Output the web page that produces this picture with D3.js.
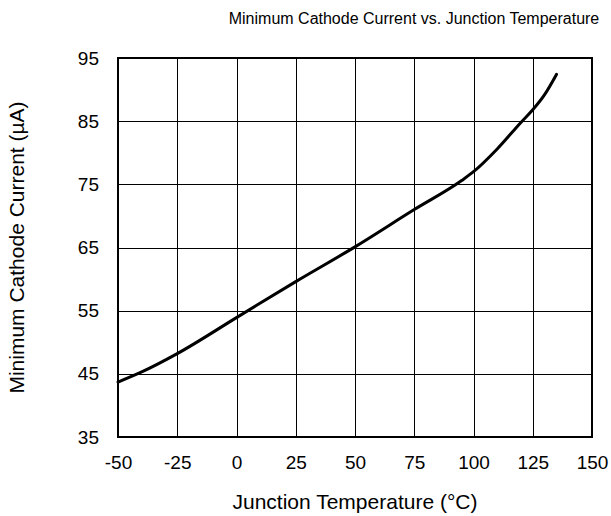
<!DOCTYPE html>
<html>
<head>
<meta charset="utf-8">
<script src="https://cdn.jsdelivr.net/npm/d3@7"></script>
<style>
  body { margin: 0; background: #fff; }
  text { font-family: "Liberation Sans", Arial, sans-serif; fill: #000; }
</style>
</head>
<body>
<div id="chart"></div>
<script>
"use strict";

// values
const temps = [-50, -40, -25, 0, 25, 50, 75, 95, 100, 110, 120, 125, 130, 135];
const current = [43.7, 45.3, 48.2, 53.9, 59.6, 65.1, 71.0, 75.6, 77.0, 80.6, 84.8, 86.8, 89.2, 92.4];
const xTicks = [-50, -25, 0, 25, 50, 75, 100, 125, 150];
const yTicks = [35, 45, 55, 65, 75, 85, 95];

const W = 611, H = 516;
const margin = { top: 58, right: 19, bottom: 79, left: 118 };
const width = W - margin.left - margin.right;
const height = H - margin.top - margin.bottom;

const x = d3.scaleLinear().domain([-50, 150]).range([0, width]);
const y = d3.scaleLinear().domain([35, 95]).range([height, 0]);

const svg = d3.select("#chart").append("svg")
              .attr("width", W)
              .attr("height", H);

const g = svg.append("g")
             .attr("transform", `translate(${margin.left}, ${margin.top})`);

// grid
g.append("g")
 .selectAll("line")
 .data(xTicks.slice(1, -1))
 .join("line")
 .attr("x1", d => Math.round(x(d)) + 0.5).attr("x2", d => Math.round(x(d)) + 0.5)
 .attr("y1", 0).attr("y2", height)
 .attr("stroke", "#000").attr("stroke-width", 1);

g.append("g")
 .selectAll("line")
 .data(yTicks.slice(1, -1))
 .join("line")
 .attr("x1", 0).attr("x2", width)
 .attr("y1", d => Math.round(y(d)) + 0.5).attr("y2", d => Math.round(y(d)) + 0.5)
 .attr("stroke", "#000").attr("stroke-width", 1);

// axes: labels only
const xAxis = g.append("g")
               .attr("transform", `translate(0, ${height})`)
               .call(d3.axisBottom(x).tickValues(xTicks).tickFormat(d => String(d))
                       .tickSize(0).tickPadding(19));
const yAxis = g.append("g")
               .call(d3.axisLeft(y).tickValues(yTicks).tickFormat(d => String(d))
                       .tickSize(0).tickPadding(19));
[xAxis, yAxis].forEach(a => {
    a.select(".domain").remove();
    a.selectAll("text")
     .style("font-family", "'Liberation Sans', Arial, sans-serif")
     .style("font-size", "19px");
});

// frame
g.append("rect")
 .attr("width", width).attr("height", height)
 .attr("fill", "none")
 .attr("stroke", "#000").attr("stroke-width", 2);

// curve
const pts = temps.map((t, i) => [t, current[i]]);
g.append("path")
 .datum(pts)
 .attr("fill", "none")
 .attr("stroke", "#000")
 .attr("stroke-width", 3)
 .attr("stroke-linecap", "round")
 .attr("d", d3.line()
              .x(d => x(d[0]))
              .y(d => y(d[1]))
              .curve(d3.curveMonotoneX));

// titles
svg.append("text")
   .attr("x", 414).attr("y", 24)
   .attr("text-anchor", "middle")
   .style("font-size", "16px")
   .text("Minimum Cathode Current vs. Junction Temperature");

svg.append("text")
   .attr("x", margin.left + width / 2).attr("y", 509)
   .attr("text-anchor", "middle")
   .style("font-size", "21px")
   .text("Junction Temperature (°C)");

svg.append("text")
   .attr("transform", `translate(24, ${margin.top + height / 2}) rotate(-90)`)
   .attr("text-anchor", "middle")
   .style("font-size", "21px")
   .text("Minimum Cathode Current (µA)");
</script>
</body>
</html>
